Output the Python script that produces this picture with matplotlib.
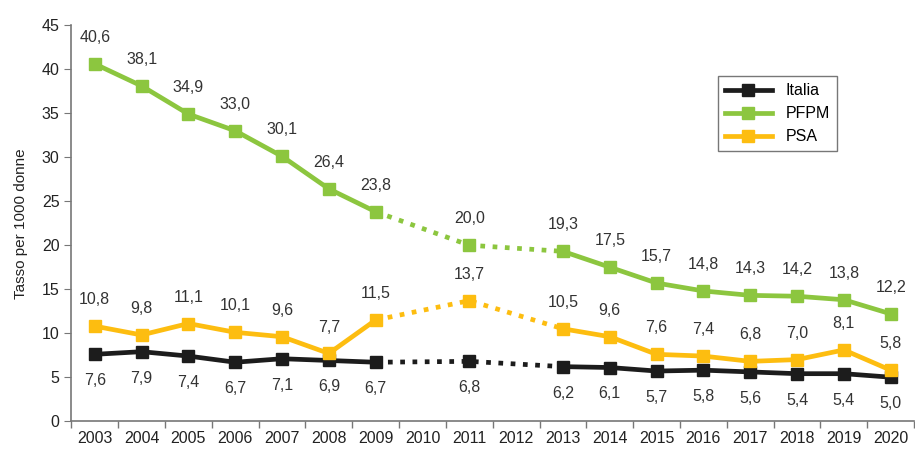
import numpy as np
import matplotlib.pyplot as plt

plt.rcParams['font.family'] = ['Liberation Sans', 'DejaVu Sans']

years = ['2003', '2004', '2005', '2006', '2007', '2008', '2009', '2010', '2011',
         '2012', '2013', '2014', '2015', '2016', '2017', '2018', '2019', '2020']
italia = [7.6, 7.9, 7.4, 6.7, 7.1, 6.9, 6.7, None, 6.8,
          None, 6.2, 6.1, 5.7, 5.8, 5.6, 5.4, 5.4, 5.0]
pfpm = [40.6, 38.1, 34.9, 33.0, 30.1, 26.4, 23.8, None, 20.0,
        None, 19.3, 17.5, 15.7, 14.8, 14.3, 14.2, 13.8, 12.2]
psa = [10.8, 9.8, 11.1, 10.1, 9.6, 7.7, 11.5, None, 13.7,
       None, 10.5, 9.6, 7.6, 7.4, 6.8, 7.0, 8.1, 5.8]

series = [('Italia', italia, '#1c1c1c', -1),
          ('PFPM', pfpm, '#8cc63f', 1),
          ('PSA', psa, '#fdbd10', 1)]

fig = plt.figure(figsize=(9.15, 4.5), dpi=100)
ax = fig.add_axes([0.078, 0.064, 0.921, 0.88])

x = np.arange(len(years))
solid_a = [i for i in range(0, 7)]
solid_b = [i for i in range(10, 18)]
dotted = [6, 8, 10]

for name, vals, col, side in series:
    v = np.array([np.nan if a is None else a for a in vals])
    ax.plot(x[solid_a], v[solid_a], color=col, lw=3.4, solid_joinstyle='miter', zorder=3)
    ax.plot(x[solid_b], v[solid_b], color=col, lw=3.4, solid_joinstyle='miter', zorder=3)
    ax.plot(x[dotted], v[dotted], color=col, lw=3.4, ls=(0, (1.0, 1.6)),
            dash_capstyle='butt', zorder=3)
    ok = ~np.isnan(v)
    ax.plot(x[ok], v[ok], ls='none', marker='s', ms=8, color=col, zorder=4)
    ax.plot([], [], color=col, lw=3.4, marker='s', ms=8, label=name)
    for xi, vi in zip(x[ok], v[ok]):
        ax.annotate(f'{vi:.1f}'.replace('.', ','), (xi, vi),
                    xytext=(0, 19 * side), textcoords='offset points',
                    ha='center', va='center', fontsize=11.5, color='#333333')

ax.set_xlim(-0.5, 17.5)
ax.set_ylim(0, 45)
ax.set_yticks(range(0, 46, 5))
ax.set_xticks(x)
ax.set_xticklabels(years)
ax.set_xticks(np.arange(-0.5, 18, 1), minor=True)
ax.tick_params(axis='x', which='major', length=0, pad=7, labelsize=11.5, colors='#222222')
ax.tick_params(axis='x', which='minor', length=5, color='#777777', width=1)
ax.tick_params(axis='y', length=5, color='#777777', labelsize=11.5, colors='#222222')
for s in ['top', 'right']:
    ax.spines[s].set_visible(False)
for s in ['left', 'bottom']:
    ax.spines[s].set_color('#777777')
    ax.spines[s].set_linewidth(1.2)

ax.set_ylabel('Tasso per 1000 donne', fontsize=11, color='#222222', labelpad=10)

leg = ax.legend(loc='upper left', bbox_to_anchor=(718 / 915, 1 - 76 / 450),
                bbox_transform=fig.transFigure, fontsize=11.5, frameon=True,
                fancybox=False, handlelength=2.9, borderpad=0.45,
                labelspacing=0.5, handletextpad=0.9, borderaxespad=0)
leg.get_frame().set_edgecolor('#555555')
leg.get_frame().set_linewidth(1.0)

fig.savefig('out.png', dpi=100)
